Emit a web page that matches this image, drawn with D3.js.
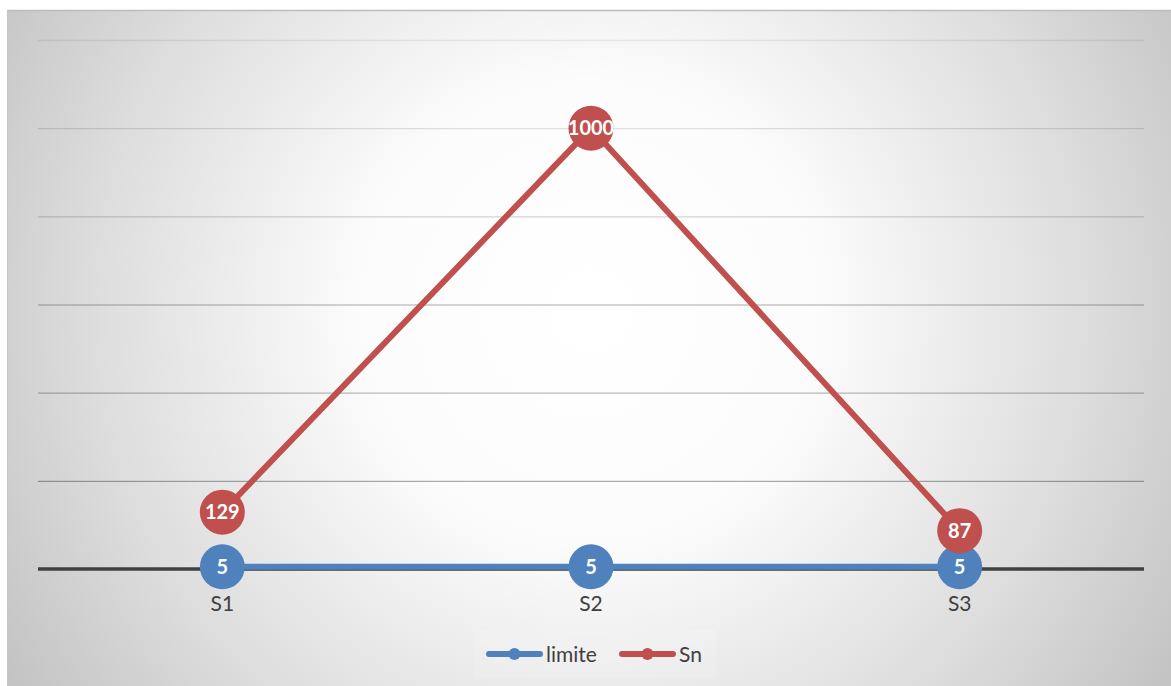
<!DOCTYPE html>
<html>
<head>
<meta charset="utf-8">
<script src="https://cdn.jsdelivr.net/npm/d3@7/dist/d3.min.js"></script>
<style>
  html, body { margin: 0; padding: 0; background: #ffffff; }
  svg { display: block; }
</style>
</head>
<body>
<svg id="chart" width="1171" height="686"></svg>
<script>
// Data
const categories = ["S1", "S2", "S3"];
const limite = [5, 5, 5];
const sn = [129, 1000, 87];
const yTicks = [0, 200, 400, 600, 800, 1000, 1200];

const seriesList = [
  { name: "limite", values: limite, color: "#4f81bd" },
  { name: "Sn", values: sn, color: "#c0504d" }
];

const W = 1171, H = 686;
const FONT = "Lato, 'Open Sans', sans-serif";
const svg = d3.select("#chart");
const defs = svg.append("defs");

// Chart area background: radial fade from white centre to grey edges
const bg = defs.append("radialGradient")
  .attr("id", "bgGrad")
  .attr("gradientUnits", "userSpaceOnUse")
  .attr("cx", 590).attr("cy", 310).attr("r", 690);
bg.append("stop").attr("offset", 0).attr("stop-color", "#ffffff");
bg.append("stop").attr("offset", 0.33).attr("stop-color", "#fcfcfc");
bg.append("stop").attr("offset", 0.72).attr("stop-color", "#dddddd");
bg.append("stop").attr("offset", 1).attr("stop-color", "#c3c3c3");

const area = { x: 7, y: 10, w: W - 7, h: H - 10 };
svg.append("rect")
  .attr("x", area.x).attr("y", area.y)
  .attr("width", area.w).attr("height", area.h)
  .attr("fill", "url(#bgGrad)");
svg.append("line")
  .attr("x1", area.x).attr("x2", W).attr("y1", area.y + 0.5).attr("y2", area.y + 0.5)
  .attr("stroke", "#bdbdbd").attr("stroke-width", 1.5);
svg.append("line")
  .attr("x1", area.x + 0.5).attr("x2", area.x + 0.5).attr("y1", area.y).attr("y2", H)
  .attr("stroke", "#c4c4c4").attr("stroke-width", 1);

// Plot area
const plot = { left: 38, right: 1144, top: 40, bottom: 569 };

const x = d3.scaleBand()
  .domain(categories)
  .range([plot.left, plot.right])
  .paddingInner(0).paddingOuter(0);

const y = d3.scaleLinear()
  .domain([0, 1200])
  .range([plot.bottom, plot.top]);

// Gridlines fade toward the top
const gridOpacity = d3.scaleLinear().domain([1200, 200]).range([0.07, 0.32]);
const yAxis = d3.axisLeft(y)
  .tickValues(yTicks.filter(v => v > 0))
  .tickSize(-(plot.right - plot.left))
  .tickFormat("");
const gGrid = svg.append("g")
  .attr("transform", `translate(${plot.left},0)`)
  .call(yAxis);
gGrid.select(".domain").remove();
gGrid.selectAll(".tick line")
  .attr("stroke", "#000")
  .attr("stroke-width", 1.4)
  .attr("stroke-opacity", d => gridOpacity(d));

// Category axis
const xAxis = d3.axisBottom(x).tickSize(0).tickPadding(0);
const gX = svg.append("g")
  .attr("transform", `translate(0,${y(0)})`)
  .call(xAxis);
gX.select(".domain").remove();
gX.append("line")
  .attr("x1", plot.left).attr("x2", plot.right)
  .attr("y1", 0).attr("y2", 0)
  .attr("stroke", "#404040").attr("stroke-width", 3.5);
gX.selectAll(".tick text")
  .attr("y", 42)
  .attr("dy", 0)
  .attr("fill", "#404040")
  .style("font-family", FONT)
  .style("font-size", "21px");

const cx = c => x(c) + x.bandwidth() / 2;

const line = d3.line()
  .x((d, i) => cx(categories[i]))
  .y(d => y(d));

// Lines
seriesList.forEach(s => {
  svg.append("path")
    .datum(s.values)
    .attr("fill", "none")
    .attr("stroke", s.color)
    .attr("stroke-width", 6)
    .attr("stroke-linejoin", "round")
    .attr("d", line);
});

// Markers with value labels (limite first, Sn on top)
seriesList.forEach(s => {
  const g = svg.append("g");
  g.selectAll("circle")
    .data(s.values)
    .join("circle")
    .attr("cx", (d, i) => cx(categories[i]))
    .attr("cy", d => y(d))
    .attr("r", 22.5)
    .attr("fill", s.color);
  g.selectAll("text")
    .data(s.values)
    .join("text")
    .attr("x", (d, i) => cx(categories[i]))
    .attr("y", d => y(d))
    .attr("dy", "0.36em")
    .attr("text-anchor", "middle")
    .attr("fill", "#ffffff")
    .style("font-family", FONT)
    .style("font-weight", "bold")
    .style("font-size", "20px")
    .text(d => d);
});

// Legend
const legend = svg.append("g");
legend.append("rect")
  .attr("x", 474).attr("y", 630).attr("width", 242).attr("height", 48)
  .attr("fill", "#ffffff").attr("fill-opacity", 0.12);
const legendItems = [
  { s: seriesList[0], x0: 486 },
  { s: seriesList[1], x0: 619 }
];
legendItems.forEach(({ s, x0 }) => {
  const ly = 654;
  legend.append("line")
    .attr("x1", x0 + 3).attr("x2", x0 + 54)
    .attr("y1", ly).attr("y2", ly)
    .attr("stroke", s.color).attr("stroke-width", 6)
    .attr("stroke-linecap", "round");
  legend.append("circle")
    .attr("cx", x0 + 28.5).attr("cy", ly).attr("r", 6)
    .attr("fill", s.color);
  legend.append("text")
    .attr("x", x0 + 60).attr("y", ly)
    .attr("dy", "0.36em")
    .attr("fill", "#404040")
    .style("font-family", FONT)
    .style("font-size", "21px")
    .text(s.name);
});
</script>
</body>
</html>
